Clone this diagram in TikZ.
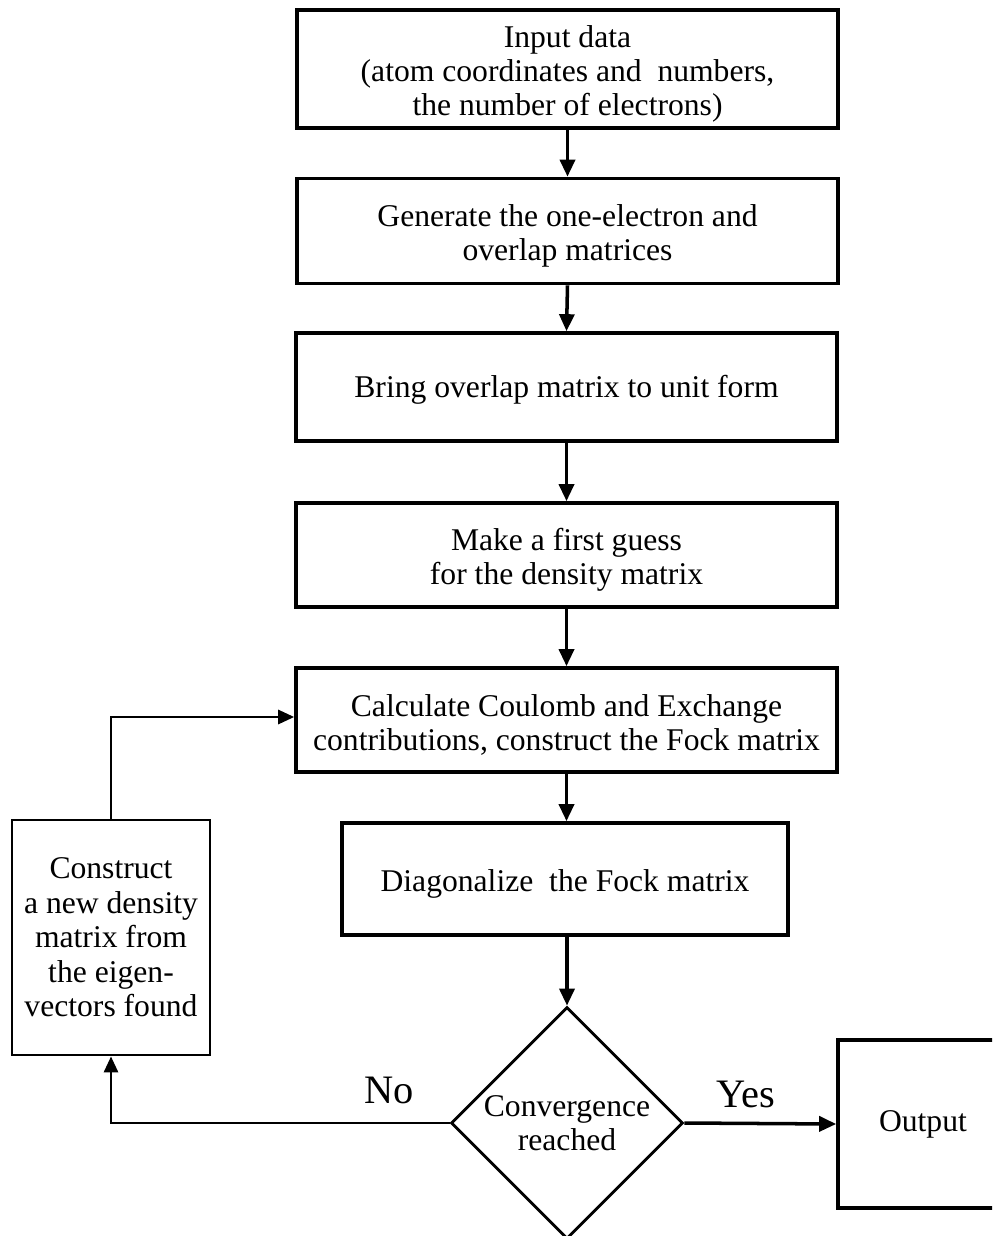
\documentclass[tikz,border=0pt]{standalone}
\usepackage{fontspec}
\setmainfont{Liberation Serif}
\usetikzlibrary{arrows.meta,shapes.geometric}
\newcommand{\topstrut}{\rule{0pt}{18pt}}
\begin{document}
\begin{tikzpicture}[x=0.02cm,y=-0.02cm,
  txt/.style={font=\fontsize{18}{19.6}\selectfont, align=center},
  mainbox/.style={txt, draw, line width=2.1pt, inner sep=0pt, minimum width=10.82cm},
  sidebox/.style={txt, draw, line width=1.6pt, inner sep=0pt},
  decision/.style={txt, draw, diamond, line width=1.6pt, inner sep=0pt, minimum width=4.64cm, minimum height=4.64cm},
  arr/.style={line width=2pt, -{Triangle[length=0.34cm,width=0.3cm]}},
  farr/.style={line width=1.6pt, -{Triangle[length=0.32cm,width=0.28cm]}},
  lab/.style={font=\fontsize{23}{27}\selectfont}]
\useasboundingbox (0,0) rectangle (992,1236);
\clip (0,0) rectangle (992,1236);

\node[mainbox, minimum height=2.36cm] (b1) at (567.5,69) {\topstrut Input data\\(atom coordinates and\ \ numbers,\\the number of electrons)};
\node[mainbox, minimum height=2.10cm] (b2) at (567.5,231) {\topstrut Generate the one-electron and\\overlap matrices};
\node[mainbox, minimum height=2.16cm] (b3) at (566.5,387) {\rule{0pt}{16pt}Bring overlap matrix to unit form};
\node[mainbox, minimum height=2.08cm] (b4) at (566.5,555) {\topstrut Make a first guess\\for the density matrix};
\node[mainbox, minimum height=2.08cm] (b5) at (566.5,720) {\topstrut Calculate Coulomb and Exchange\\contributions, construct the Fock matrix};
\node[mainbox, minimum width=8.92cm, minimum height=2.24cm] (b6) at (565,879) {\topstrut Diagonalize\ \ the Fock matrix};
\node[decision] (d) at (567,1123) {Convergence\\reached};
\node[sidebox, minimum width=3.96cm, minimum height=4.70cm] (c) at (111,937.5) {Construct\\a new density\\matrix from\\the eigen-\\vectors found};
\node[draw, txt, line width=2.1pt, inner sep=0pt, minimum width=3.6cm, minimum height=3.36cm, text width=3.6cm, align=left] (o) at (928,1124) {\hspace{0.82cm}Output};

\draw[arr] (b1.south) -- (b2.north);
\draw[arr] (b2.south) -- (b3.north);
\draw[arr] (b3.south) -- (b4.north);
\draw[arr] (b4.south) -- (b5.north);
\draw[arr] (b5.south) -- (b5.south |- b6.north);
\draw[arr] (b6.south -| d.north) -- (d.north);
\draw[arr] (d.east) -- (o.west);
\draw[farr] (d.west) -| (c.south);
\draw[farr] (c.north) |- ([yshift=0.06cm]b5.west);

\node[lab] (no) at (389,1090) {No};
\node[lab] (yes) at (746,1094) {Yes};
\end{tikzpicture}
\end{document}
